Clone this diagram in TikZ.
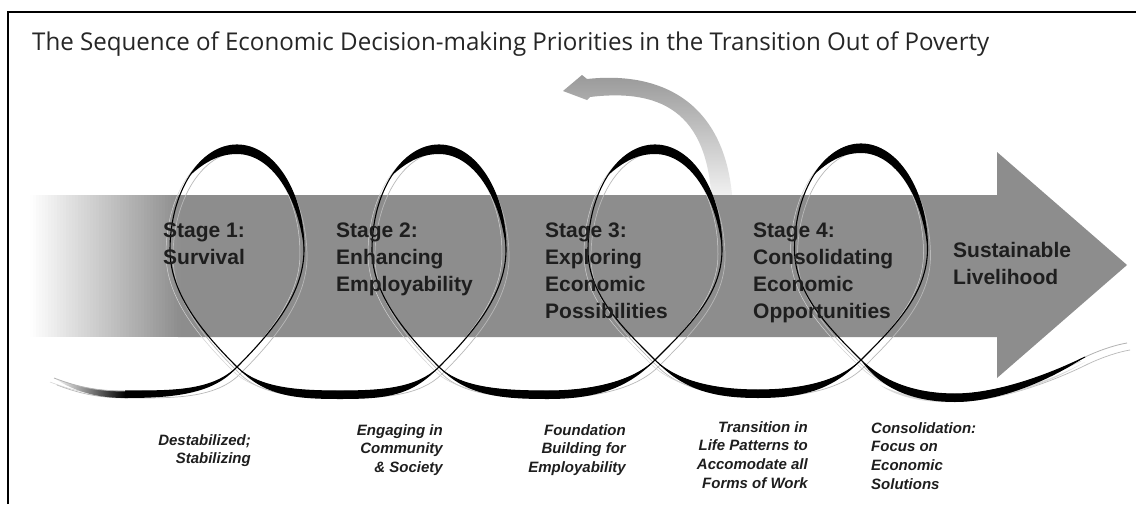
\documentclass[tikz,border=0pt]{standalone}
\usepackage{fontspec}
\setmainfont{Liberation Sans}
\newfontfamily\titlefont{Open Sans}
\usepackage{graphicx}
\definecolor{arrowgray}{RGB}{141,141,141}
\definecolor{txtdark}{RGB}{30,30,30}
\definecolor{curvegray}{RGB}{150,150,150}

\newcommand\ribbonlines[1]{%
  \foreach \xc/\rx/\yt/\yc in {237/67/145/367, 439/67/145/367, 655/67/145/360, 861/66.5/144/360}{%
    \draw[#1] (\xc,\yc) .. controls ({\xc+32},{\yc-32}) and ({\xc+\rx},{\yt+150}) .. ({\xc+\rx},{\yt+105})
      .. controls ({\xc+\rx},{\yt+47}) and ({\xc+0.552*\rx},\yt) .. (\xc,\yt)
      .. controls ({\xc-0.552*\rx},\yt) and ({\xc-\rx},{\yt+47}) .. ({\xc-\rx},{\yt+105})
      .. controls ({\xc-\rx},{\yt+150}) and ({\xc-32},{\yc-32}) .. (\xc,\yc);
  }%
  \draw[#1] (125,391) .. controls (170,391) and (212,392) .. (237,367);
  \draw[#1] (237,367) .. controls (259,389) and (300,391) .. (340,391) .. controls (380,391) and (417,389) .. (439,367);
  \draw[#1] (439,367) .. controls (461,389) and (505,391) .. (548,391) .. controls (591,391) and (633,382) .. (655,360);
  \draw[#1] (655,360) .. controls (677,382) and (716,390) .. (758,390) .. controls (800,390) and (839,382) .. (861,360);
  \draw[#1] (861,360) .. controls (883,382) and (915,394) .. (955,394) .. controls (1000,394) and (1055,372) .. (1085,357);
}

\begin{document}
\begin{tikzpicture}[x=1pt,y=-1pt,
  ribbon/.style={line width=1.1pt, black},
  companion/.style={line width=0.7pt, gray!55},
  companionlight/.style={line width=0.5pt, gray!35},
  tailline/.style={line width=0.8pt, gray!60},
  stagetext/.style={anchor=north west, inner sep=0pt, align=left, text=txtdark,
     font=\fontsize{21}{27}\selectfont\bfseries},
  labeltext/.style={inner sep=0pt, text=txtdark,
     font=\fontsize{15}{18.7}\selectfont\bfseries\itshape},
  frameline/.style={line width=2.5pt, black}
]
\useasboundingbox (0,0) rectangle (1136,504);
\fill[white] (0,0) rectangle (1136,504);

% frame
\draw[frameline] (8,504) -- (8,12) -- (1136,12);

% title
\node[anchor=base west, inner sep=0pt, text=black!85] (title) at (32,50)
  {\resizebox{957pt}{\height}{\titlefont\fontsize{24.5}{28}\selectfont The Sequence of Economic Decision-making Priorities in the Transition Out of Poverty}};

% curved return arrow
\shade[top color=curvegray, bottom color=white]
  (587,79) -- (582,75) -- (563,91) -- (587,100) -- (590,97)
  .. controls (665,88) and (712,115) .. (712,215) -- (733,215)
  .. controls (732,110) and (670,70) .. (587,79) -- cycle;

% big arrow
\fill[arrowgray] (178,195) -- (997,195) -- (997,152) -- (1127,265) -- (997,378) -- (997,337) -- (178,337) -- cycle;
\foreach \i in {0,...,49}{%
  \pgfmathsetmacro\pc{2*\i+1}%
  \fill[arrowgray!\pc!white] ({30+3*\i},195) rectangle ({33.8+3*\i},337);
}

% ribbon companions
\begin{scope}[shift={(3,7)}]
  \ribbonlines{companion}
  \draw[companion] (54,378) .. controls (80,388) and (100,391) .. (125,391);
  \draw[companion] (1085,357) .. controls (1100,350) and (1115,345) .. (1127,343);
\end{scope}
\begin{scope}[shift={(-4,4)}]
  \ribbonlines{companionlight}
  \draw[companionlight] (54,378) .. controls (80,388) and (100,391) .. (125,391);
\end{scope}

% thick parts of the ribbon: loop tops
\foreach \xc/\rx/\yt in {237/67/145, 439/67/145, 655/67/145, 861/66.5/144}{%
  \fill[black] ({\xc-0.707*\rx},{\yt+30.75}) .. controls ({\xc-0.526*\rx},{\yt+11.75}) and ({\xc-0.276*\rx},\yt) .. (\xc,\yt)
    .. controls ({\xc+0.552*\rx},\yt) and ({\xc+\rx},{\yt+47}) .. ({\xc+\rx},{\yt+105})
    .. controls ({\xc+\rx-5},{\yt+53}) and ({\xc+0.52*\rx},{\yt+9}) .. (\xc,{\yt+9})
    .. controls ({\xc-0.28*\rx},{\yt+9}) and ({\xc-0.5*\rx},{\yt+18}) .. ({\xc-0.707*\rx},{\yt+30.75}) -- cycle;
}
% thick parts: troughs
\foreach \a/\ya/\t/\ty/\b/\yb in {237/367/340/391/439/367, 439/367/548/391/655/360, 655/360/758/390/861/360}{%
  \fill[black] (\a,\ya) .. controls ({\a+22},{\ya+22}) and ({\t-41},\ty) .. (\t,\ty)
    .. controls ({\t+41},\ty) and ({\b-22},{\yb+22}) .. (\b,\yb)
    .. controls ({\b-27},{\yb+29}) and ({\t+46},{\ty+8}) .. (\t,{\ty+8})
    .. controls ({\t-46},{\ty+8}) and ({\a+27},{\ya+29}) .. (\a,\ya) -- cycle;
}
% start tail
\shade[left color=white, right color=black] (54,378) .. controls (80,388) and (100,391) .. (125,391)
  -- (125,398) .. controls (98,398) and (75,392) .. (54,378) -- cycle;
\fill[black] (125,391) .. controls (170,391) and (212,392) .. (237,367)
  .. controls (214,395) and (170,398) .. (125,398) -- cycle;
% end tail
\fill[gray!30] (880,385) .. controls (915,404) and (1000,408) .. (1085,362)
  .. controls (1000,412) and (915,410) .. (880,385) -- cycle;
\fill[black] (861,360) .. controls (883,382) and (915,394) .. (955,394)
  .. controls (1000,394) and (1055,372) .. (1085,357)
  .. controls (1050,380) and (1000,402) .. (955,402)
  .. controls (912,402) and (880,388) .. (861,360) -- cycle;

% main ribbon lines
\ribbonlines{ribbon}
\draw[tailline] (54,378) .. controls (80,388) and (100,391) .. (125,391);
\draw[tailline] (1085,357) .. controls (1100,350) and (1115,345) .. (1127,343);

% stage texts
\node[stagetext] (s1) at (163,223) {Stage 1:\\Survival};
\node[stagetext] (s2) at (336,223) {Stage 2:\\Enhancing\\Employability};
\node[stagetext] (s3) at (545,223) {Stage 3:\\Exploring\\Economic\\Possibilities};
\node[stagetext] (s4) at (753,223) {Stage 4:\\Consolidating\\Economic\\Opportunities};
\node[stagetext] (s5) at (953,242) {Sustainable\\Livelihood};

% lower labels
\node[labeltext, anchor=north east, align=right] (l1) at (251,434) {Destabilized;\\Stabilizing};
\node[labeltext, anchor=north east, align=right] (l2) at (443,424) {Engaging in\\Community\\\& Society};
\node[labeltext, anchor=north east, align=right] (l3) at (626,424) {Foundation\\Building for\\Employability};
\node[labeltext, anchor=north east, align=right] (l4) at (808,421) {Transition in\\Life Patterns to\\Accomodate all\\Forms of Work};
\node[labeltext, anchor=north west, align=left] (l5) at (871,422) {Consolidation:\\Focus on\\Economic\\Solutions};
\end{tikzpicture}
\end{document}
